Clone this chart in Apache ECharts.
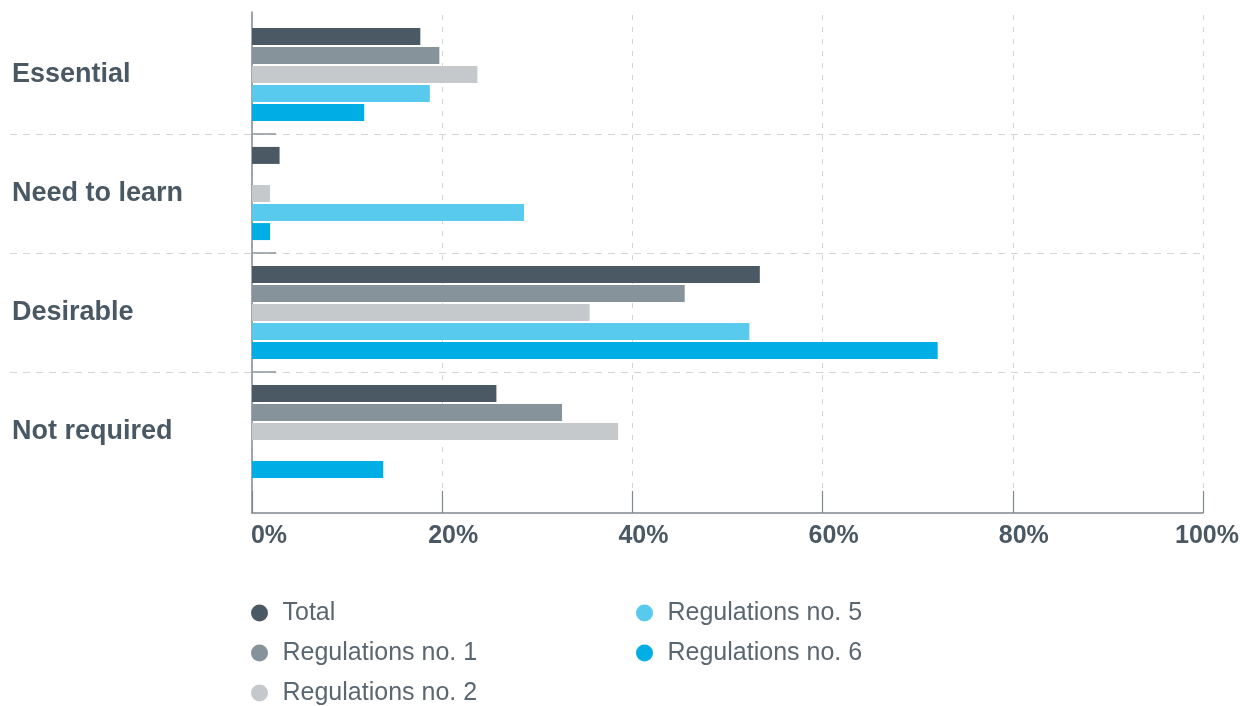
<!DOCTYPE html>
<html>
<head>
<meta charset="utf-8">
<title>Skill requirement by regulation</title>
<script src="https://cdn.jsdelivr.net/npm/echarts@6/dist/echarts.min.js"></script>
<style>
  html, body { margin: 0; padding: 0; background: #ffffff; }
  #chart { width: 1252px; height: 706px; }
</style>
</head>
<body>
<div id="chart"></div>
<script>
// Response categories, top to bottom
const categories = ['Essential', 'Need to learn', 'Desirable', 'Not required'];

// Share of respondents (%) per category
const total  = [17.7, 2.9, 53.4, 25.7];
const regs1  = [19.7, 0,   45.5, 32.6];
const regs2  = [23.7, 1.9, 35.5, 38.5];
const regs5  = [18.7, 28.6, 52.3, 0];
const regs6  = [11.8, 1.9, 72.1, 13.8];

// Percentage axis ticks
const xTicks = [0, 20, 40, 60, 80, 100];

const seriesNames = ['Total', 'Regulations no. 1', 'Regulations no. 2', 'Regulations no. 5', 'Regulations no. 6'];
const seriesValues = [total, regs1, regs2, regs5, regs6];
const seriesColors = ['#4b5965', '#87939b', '#c5c9cc', '#58caee', '#00aee6'];

const textDark = '#4a5864';
const axisGrey = '#7f8990';
const gridGrey = '#d2d6d9';
const fontStack = 'Liberation Sans, Arial, sans-serif';

const tickLabelStyle = function (padLeft) {
  return {
    fontFamily: fontStack, fontWeight: 'bold', fontSize: 25,
    color: textDark, padding: [0, 0, 0, padLeft]
  };
};

const chart = echarts.init(document.getElementById('chart'), null, { renderer: 'canvas' });

const option = {
  animation: false,
  backgroundColor: '#ffffff',
  grid: [
    // plotting area for the bars
    { left: 252, right: 49, top: 15, bottom: 215 },
    // outer frame: left axis line and percentage axis
    { left: 252, right: 49, top: 12, bottom: 193 },
    // category separators running under the labels
    { left: 10, right: 49, top: 15, bottom: 215 },
    // short marks on the left axis at the category boundaries
    { left: 252, right: 49, top: 74.5, bottom: 274.5 }
  ],
  xAxis: [
    {
      gridIndex: 0, type: 'value',
      min: xTicks[0], max: xTicks[xTicks.length - 1], interval: xTicks[1] - xTicks[0],
      axisLine: { show: false }, axisTick: { show: false }, axisLabel: { show: false },
      splitLine: { show: true, lineStyle: { color: gridGrey, width: 1, type: [5, 7] } }
    },
    {
      gridIndex: 1, type: 'value',
      min: xTicks[0], max: xTicks[xTicks.length - 1], interval: xTicks[1] - xTicks[0],
      axisLine: { show: true, onZero: false, lineStyle: { color: axisGrey, width: 1.5 } },
      axisTick: { show: true, inside: true, length: 22, lineStyle: { color: axisGrey, width: 1.2 } },
      axisLabel: {
        show: true, margin: 11,
        formatter: function (v) {
          const key = v === xTicks[0] ? 'first' : (v === xTicks[xTicks.length - 1] ? 'last' : 'mid');
          return '{' + key + '|' + v + '%}';
        },
        rich: {
          first: tickLabelStyle(34),
          mid: tickLabelStyle(22),
          last: tickLabelStyle(8)
        }
      },
      splitLine: { show: false }
    },
    { gridIndex: 2, type: 'value', min: 0, max: 1, show: false },
    { gridIndex: 3, type: 'value', min: 0, max: 1, show: false }
  ],
  yAxis: [
    {
      gridIndex: 0, type: 'category', inverse: true, data: categories,
      axisLine: { show: false },
      axisTick: { show: false },
      axisLabel: {
        show: true, margin: 240, align: 'left',
        fontFamily: fontStack, fontWeight: 'bold', fontSize: 27,
        color: textDark, padding: [7, 0, 0, 0]
      },
      splitLine: { show: false }
    },
    {
      gridIndex: 1, type: 'value', min: 0, max: 1,
      axisLine: { show: true, onZero: false, lineStyle: { color: axisGrey, width: 1.5 } },
      axisTick: { show: false }, axisLabel: { show: false }, splitLine: { show: false }
    },
    {
      gridIndex: 2, type: 'category', inverse: true, data: categories,
      axisLine: { show: false }, axisTick: { show: false }, axisLabel: { show: false },
      splitLine: {
        show: true, showMinLine: false, showMaxLine: false,
        lineStyle: { color: gridGrey, width: 1, type: [7, 6] }
      }
    },
    {
      gridIndex: 3, type: 'category', inverse: true, data: ['b1', 'b2', 'b3'],
      axisLine: { show: false },
      axisTick: {
        show: true, inside: true, length: 24, alignWithLabel: true,
        lineStyle: { color: '#8d969c', width: 1.5 }
      },
      axisLabel: { show: false }, splitLine: { show: false }
    }
  ],
  legend: [
    {
      data: seriesNames.slice(0, 3),
      orient: 'vertical', left: 251, top: 600, padding: 0,
      icon: 'circle', itemWidth: 36, itemHeight: 17, itemGap: 14,
      textStyle: { fontFamily: fontStack, fontSize: 25, lineHeight: 26, color: '#5b6770' },
      selectedMode: false
    },
    {
      data: seriesNames.slice(3),
      orient: 'vertical', left: 636, top: 600, padding: 0,
      icon: 'circle', itemWidth: 36, itemHeight: 17, itemGap: 14,
      textStyle: { fontFamily: fontStack, fontSize: 25, lineHeight: 26, color: '#5b6770' },
      selectedMode: false
    }
  ],
  series: seriesNames.map(function (name, i) {
    return {
      name: name,
      type: 'bar',
      xAxisIndex: 0,
      yAxisIndex: 0,
      data: seriesValues[i],
      barWidth: 17,
      barGap: '12%',
      itemStyle: { color: seriesColors[i] },
      emphasis: { disabled: true }
    };
  })
};

chart.setOption(option);
</script>
</body>
</html>
